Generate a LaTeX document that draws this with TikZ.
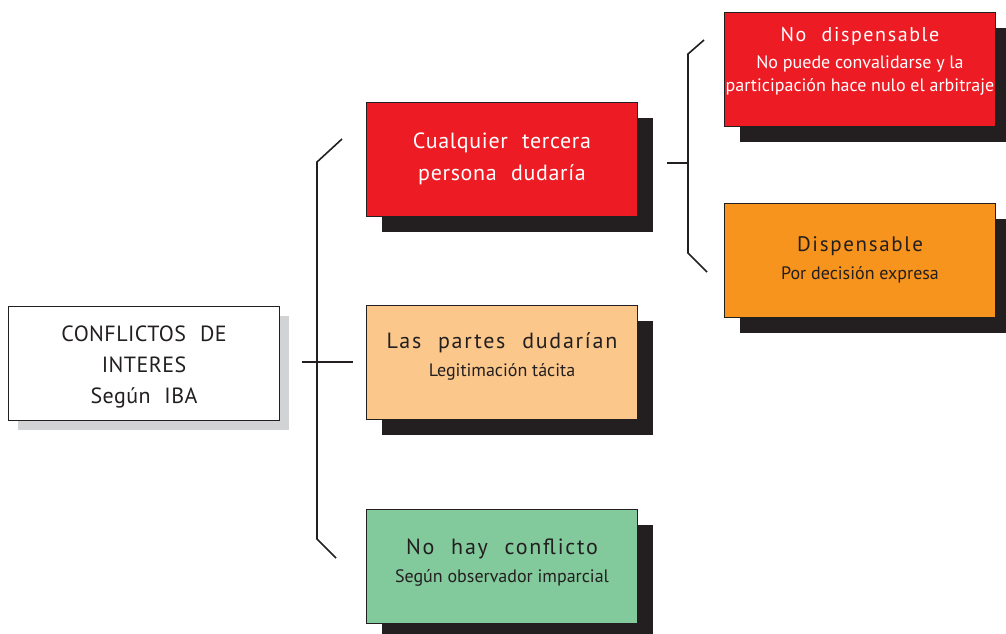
\documentclass[tikz,border=0pt]{standalone}
\usepackage{fontspec}
\setmainfont{PT Sans}
\newfontfamily\titlefont[LetterSpace=8,WordSpace=2.2]{PT Sans}
\usetikzlibrary{shadows}

\definecolor{ink}{HTML}{231F20}
\definecolor{boxred}{HTML}{ED1C24}
\definecolor{boxorange}{HTML}{F7941D}
\definecolor{boxpeach}{HTML}{FBC78B}
\definecolor{boxgreen}{HTML}{82CA9C}
\definecolor{lightshadow}{HTML}{D1D3D4}

\tikzset{
    plainbox/.style={rectangle,draw=ink,line width=1pt,minimum width=271pt,
        minimum height=114pt,inner sep=0pt,align=center,text=ink,
        font=\fontsize{18}{28}\selectfont},
    box/.style={plainbox,drop shadow={shadow xshift=15pt,shadow yshift=-16pt,
        fill=ink,opacity=1}},
    rootbox/.style={plainbox,fill=white,drop shadow={shadow xshift=9pt,
        shadow yshift=-10pt,fill=lightshadow,opacity=1}},
    brace/.style={draw=ink,line width=1.6pt}
}

\begin{document}
\begin{tikzpicture}[x=1pt,y=-1pt]
    \useasboundingbox (0,0) rectangle (1006,633);

    % Boxes
    \node[rootbox,font=\titlefont\addfontfeature{LetterSpace=2}\fontsize{22}{31}\selectfont] (root) at (144,363)
        {\\[-7pt]CONFLICTOS DE\\INTERES\\Según IBA};
    \node[box,fill=boxred,text=white,font=\titlefont\addfontfeature{LetterSpace=3}\fontsize{22}{32}\selectfont] (tercera) at (502,159)
        {Cualquier tercera\\persona dudaría};
    \node[box,fill=boxpeach] (partes) at (502,362)
        {{\titlefont\fontsize{22}{28}\selectfont Las partes dudarían}\\Legitimación tácita\\[-14pt]\mbox{}};
    \node[box,fill=boxgreen] (nohay) at (502,566)
        {{\titlefont\fontsize{22}{28}\selectfont No hay conflicto}\\Según observador imparcial\\[-18pt]\mbox{}};
    \node[box,fill=boxred,text=white,font=\fontsize{18}{23}\selectfont] (nodisp) at (860,69)
        {{\titlefont\fontsize{20}{23}\selectfont No dispensable}\\[4pt]No puede convalidarse y la\\participación hace nulo el arbitraje\\[-3pt]\mbox{}};
    \node[box,fill=boxorange] (disp) at (860,260)
        {{\titlefont\fontsize{21}{28}\selectfont Dispensable}\\Por decisión expresa};

    % Brackets
    \coordinate (b1top) at (342,139);
    \coordinate (b1bot) at (336,558);
    \coordinate (b1in) at (302,362);
    \coordinate (b1out) at (353,362);
    \draw[brace] (b1top) -- (317,162) -- (317,539) -- (b1bot);
    \draw[brace] (b1in) -- (b1out);

    \coordinate (b2top) at (704,40);
    \coordinate (b2bot) at (707,272);
    \coordinate (b2in) at (667,163);
    \coordinate (b2out) at (689,163);
    \draw[brace] (b2top) -- (688,54) -- (688,253) -- (b2bot);
    \draw[brace] (b2in) -- (b2out);
\end{tikzpicture}
\end{document}
